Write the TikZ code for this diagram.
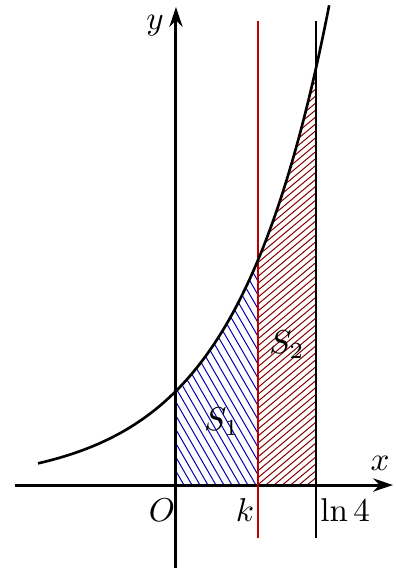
\documentclass[tikz,border=0pt]{standalone}
\usetikzlibrary{arrows.meta}
\begin{document}
\begin{tikzpicture}[x=1cm,y=1cm,
  axis/.style={line width=0.9pt,-{Stealth[length=6pt,width=4pt]}},
  curve/.style={line width=0.8pt},
  vline/.style={line width=0.45pt},
  hatchb/.style={line width=0.3pt,blue!70!black},
  hatchr/.style={line width=0.3pt,red!50!black},
  lbl/.style={inner sep=0pt}]
\useasboundingbox (-1.872,-0.904) rectangle (2.340,5.160);
\def\kk{0.872}
\def\lf{1.489}
% hatching blue
\begin{scope}
\clip (0,0) -- plot[domain=0:\kk,samples=40] (\x,{exp(\x)}) -- (\kk,0) -- cycle;
\foreach \a in {0,0.085,...,2.5}
  \draw[hatchb] (\a-1.6,2.771) -- (\a+0.1,-0.173);
\end{scope}
% hatching red
\begin{scope}
\clip (\kk,0) -- plot[domain=\kk:\lf,samples=40] (\x,{exp(\x)}) -- (\lf,0) -- cycle;
\foreach \a in {-4.5,-4.412,...,1.6}
  \draw[hatchr] (\a-0.1,-0.084) -- (\a+6,5.035);
\end{scope}
% axes
\coordinate (xs) at (-1.713,0);
\coordinate (xe) at (2.309,0);
\coordinate (ys) at (0,-0.883);
\coordinate (ye) at (0,5.085);
\draw[axis] (xs) -- (xe);
\draw[axis] (ys) -- (ye);
% vertical lines
\coordinate (ks) at (\kk,-0.564);
\coordinate (ke) at (\kk,4.936);
\coordinate (ls) at (\lf,-0.564);
\coordinate (le) at (\lf,4.936);
\draw[vline,red!75!black] (ks) -- (ke);
\draw[vline] (ls) -- (le);
% curve
\draw[curve] plot[domain=-1.468:1.63,samples=80,smooth] (\x,{exp(\x)});
% labels
\node[lbl] (ylab) at (-0.223,4.89) {$y$};
\node[lbl] (xlab) at (2.17,0.234) {$x$};
\node[lbl] (O) at (-0.149,-0.266) {$O$};
\node[lbl] (k) at (0.734,-0.266) {$k$};
\node[lbl] (ln4) at (1.80,-0.266) {$\ln 4$};
\node[lbl] (S1) at (0.49,0.67) {$S_1$};
\node[lbl] (S2) at (1.18,1.49) {$S_2$};
\end{tikzpicture}
\end{document}
